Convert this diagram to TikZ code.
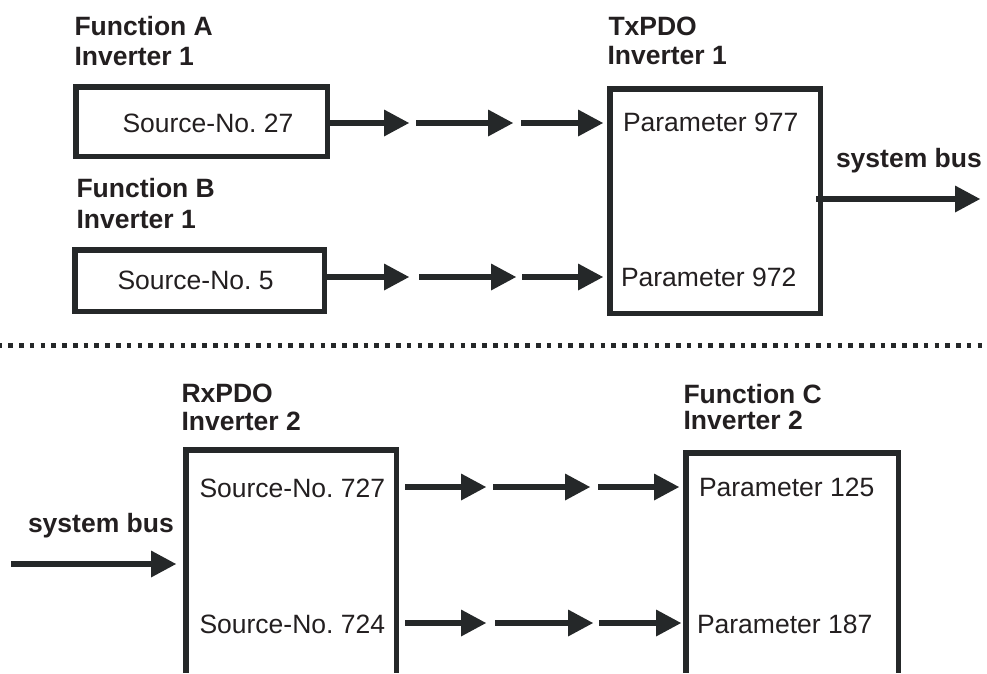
\documentclass[tikz,border=0pt]{standalone}
\usepackage{fontspec}
\setmainfont{Liberation Sans}
\usetikzlibrary{arrows.meta}
\definecolor{ink}{RGB}{37,40,41}
\definecolor{txt}{RGB}{35,31,32}
\begin{document}
\frenchspacing
\begin{tikzpicture}[x=1pt,y=-1pt,
  lbl/.style={anchor=base west,inner sep=0pt,outer sep=0pt,font=\fontsize{26.5}{30}\selectfont\bfseries,text=txt},
  txtn/.style={anchor=base west,inner sep=0pt,outer sep=0pt,font=\fontsize{26.5}{30}\selectfont,text=txt},
  box/.style={draw=ink,line width=5.5pt,inner sep=0pt,outer sep=0pt,line join=miter},
  openbox/.style={draw=none,inner sep=0pt,outer sep=0pt},
  openline/.style={draw=ink,line width=5.5pt,line join=miter},
  arr/.style={draw=ink,line width=6pt,-{Triangle[length=25pt,width=27pt,line width=0pt]}},
  sep/.style={draw=ink,line width=5pt,dash pattern=on 4.6pt off 6.17pt},
]
\useasboundingbox (0,0) rectangle (987,673);

% ---------- boxes ----------
\node[box,minimum width=251.5pt,minimum height=69.5pt] (A) at (201.5,121.5) {};
\node[box,minimum width=249.5pt,minimum height=61.5pt] (B) at (199.5,280.5) {};
\node[box,minimum width=210.5pt,minimum height=224.5pt] (Tx) at (715,201) {};
\node[openbox,minimum width=210.5pt,minimum height=223.25pt] (Rx) at (291,561.375) {};
\node[openbox,minimum width=212.5pt,minimum height=220.25pt] (FC) at (792,562.875) {};
\draw[openline] (Rx.south west) -- (Rx.north west) -- (Rx.north east) -- (Rx.south east);
\draw[openline] (FC.south west) -- (FC.north west) -- (FC.north east) -- (FC.south east);

% ---------- labels ----------
\node[lbl] (fa1) at (74.5,35) {Function A};
\node[lbl] (fa2) at (74.5,65) {Inverter 1};
\node[lbl] (fb1) at (76.5,197) {Function B};
\node[lbl] (fb2) at (76.5,228) {Inverter 1};
\node[lbl] (tx1) at (608.5,35) {TxPDO};
\node[lbl] (tx2) at (607.5,64) {Inverter 1};
\node[lbl] (sb1) at (836,167) {system bus};
\node[lbl] (rx1) at (181.5,402) {RxPDO};
\node[lbl] (rx2) at (181.5,430) {Inverter 2};
\node[lbl] (fc1) at (683.5,403) {Function C};
\node[lbl] (fc2) at (683.5,429) {Inverter 2};
\node[lbl] (sb2) at (28,532) {system bus};

\node[txtn] (s27) at (122.5,132) {Source-No. 27};
\node[txtn] (s5) at (117.5,289) {Source-No. 5};
\node[txtn] (p977) at (623,131) {Parameter 977};
\node[txtn] (p972) at (621,286) {Parameter 972};
\node[txtn] (s727) at (199.5,497) {Source-No. 727};
\node[txtn] (s724) at (199.5,633) {Source-No. 724};
\node[txtn] (p125) at (699,496) {Parameter 125};
\node[txtn] (p187) at (697,633) {Parameter 187};

% ---------- separator ----------
\coordinate (sepL) at (-2.47,345);
\coordinate (sepR) at (995,345);
\draw[sep] (sepL) -- (sepR);

% ---------- row coordinates ----------
\coordinate (ra) at (0,123);
\coordinate (rb) at (0,277);
\coordinate (rbus) at (0,199);
\coordinate (rbus2) at (0,564);
\coordinate (rc) at (0,487);
\coordinate (rd) at (0,623);

\coordinate (a1e) at (409,123);
\coordinate (a2s) at (416,123);
\coordinate (a2e) at (513,123);
\coordinate (a3s) at (521,123);

\coordinate (b1e) at (409,277);
\coordinate (b2s) at (419,277);
\coordinate (b2e) at (516,277);
\coordinate (b3s) at (522,277);

\coordinate (bus1) at (980,199);
\coordinate (bus2) at (11,564);

\coordinate (c1e) at (486,487);
\coordinate (c2s) at (493,487);
\coordinate (c2e) at (590,487);
\coordinate (c3s) at (598,487);

\coordinate (d1e) at (486,623);
\coordinate (d2s) at (495,623);
\coordinate (d2e) at (593,623);
\coordinate (d3s) at (599,623);

% ---------- arrows ----------
\draw[arr] (A.east |- ra) -- (a1e);
\draw[arr] (a2s) -- (a2e);
\draw[arr,shorten >=6.75pt] (a3s) -- (Tx.west |- ra);

\draw[arr] (B.east |- rb) -- (b1e);
\draw[arr] (b2s) -- (b2e);
\draw[arr,shorten >=6.75pt] (b3s) -- (Tx.west |- rb);

\draw[arr,shorten <=-4.25pt] (Tx.east |- rbus) -- (bus1);
\draw[arr,shorten >=9.75pt] (bus2) -- (Rx.west |- rbus2);

\draw[arr,shorten <=8.75pt] (Rx.east |- rc) -- (c1e);
\draw[arr] (c2s) -- (c2e);
\draw[arr,shorten >=6.75pt] (c3s) -- (FC.west |- rc);

\draw[arr,shorten <=8.75pt] (Rx.east |- rd) -- (d1e);
\draw[arr] (d2s) -- (d2e);
\draw[arr,shorten >=4.75pt] (d3s) -- (FC.west |- rd);
\end{tikzpicture}
\end{document}
